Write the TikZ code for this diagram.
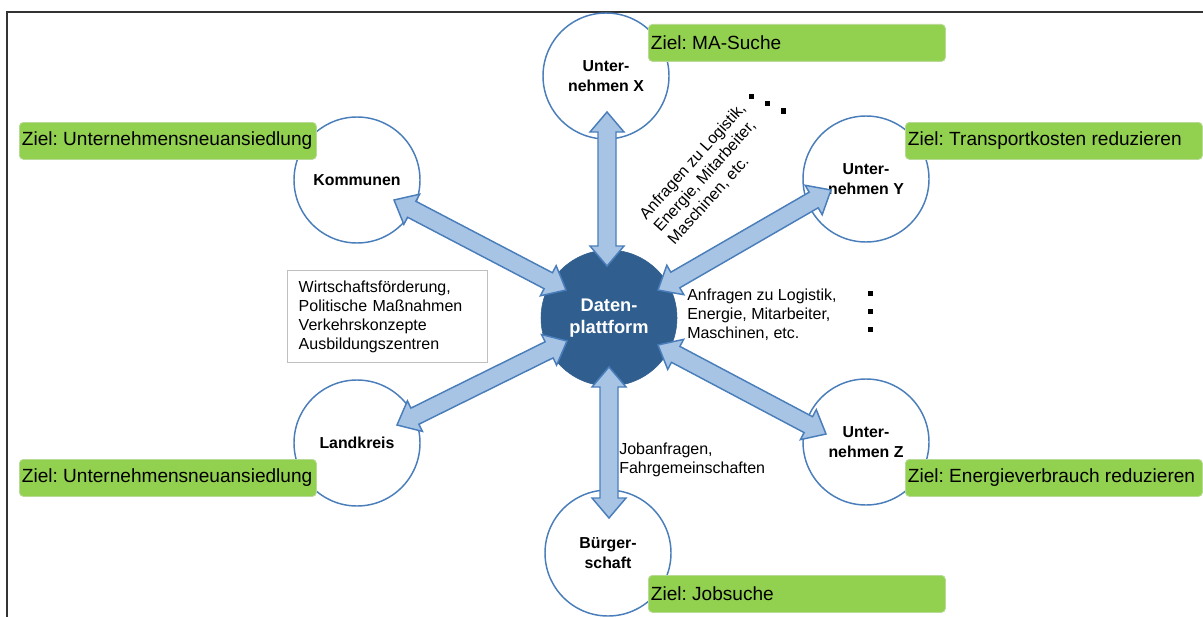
\documentclass[tikz,border=0pt]{standalone}
\usepackage{fontspec}
\setmainfont{Liberation Sans}
\usetikzlibrary{calc}
\frenchspacing
\definecolor{circblue}{RGB}{74,126,187}
\definecolor{arrfill}{RGB}{167,196,229}
\definecolor{darkblue}{RGB}{47,94,143}
\definecolor{zielgreen}{RGB}{146,208,80}
\definecolor{zielborder}{RGB}{185,218,150}
\newcommand\blockarrow[2]{%
  \path ($(#1)!15pt!(#2)$) coordinate (ha) ($(#2)!15pt!(#1)$) coordinate (hb);
  \draw[blockarr] (#1) -- ($(ha)!12.75pt!90:(#2)$) -- ($(ha)!6.75pt!90:(#2)$)
    -- ($(hb)!6.75pt!-90:(#1)$) -- ($(hb)!12.75pt!-90:(#1)$) -- (#2)
    -- ($(hb)!12.75pt!90:(#1)$) -- ($(hb)!6.75pt!90:(#1)$)
    -- ($(ha)!6.75pt!-90:(#2)$) -- ($(ha)!12.75pt!-90:(#2)$) -- cycle;}
\newcommand\zieltxt[1]{\makebox[219pt][l]{#1}}
\begin{document}
\begin{tikzpicture}[x=0.75pt,y=-0.75pt,
  every node/.style={inner sep=0pt},
  frame/.style={line width=1.6pt, draw=black!80},
  party/.style={circle, draw=circblue, line width=1.1pt, fill=white, minimum size=94.5pt, align=center, font=\fontsize{11.9}{15.5}\selectfont\bfseries},
  hub/.style={circle, draw=darkblue, fill=darkblue, minimum size=102pt, align=center, text=white, font=\fontsize{13.7}{16.5}\selectfont\bfseries},
  ziel/.style={rectangle, rounded corners=3pt, fill=zielgreen, draw=zielborder, line width=0.6pt, anchor=north west, minimum width=222.75pt, minimum height=27.75pt, inner xsep=1.8pt, font=\fontsize{14.3}{17}\selectfont},
  note/.style={align=left, font=\fontsize{12}{14.25}\selectfont},
  blockarr/.style={draw=circblue, fill=arrfill, line width=1.1pt, line join=miter},
  dotsq/.style={fill=black, minimum size=3.75pt, rectangle}
]
\useasboundingbox (0,0) rectangle (1203,617);
\fill[white] (0,0) rectangle (1203,617);
\draw[frame] (7,620) -- (7,12) -- (1206,12);

% circles
\node[party] (ux) at (606,76) {Unter-\\nehmen X};
\node[party] (komm) at (357,180) {Kommunen};
\node[party] (uy) at (866,179) {Unter-\\nehmen Y};
\node[party] (land) at (357,443) {Landkreis};
\node[party] (uz) at (866,442) {Unter-\\nehmen Z};
\node[party] (buer) at (608,553) {Bürger-\\schaft};
\node[hub] (dp) at (609,318) {Daten-\\plattform};

% arrow tips
\coordinate (tXa) at (607,112);  \coordinate (tXb) at (607,266);
\coordinate (tBa) at (609,367);  \coordinate (tBb) at (609,518);
\coordinate (tKa) at (394,200);  \coordinate (tKb) at (566,290);
\coordinate (tLa) at (397,425);  \coordinate (tLb) at (567,341);
\coordinate (tYa) at (831,190);  \coordinate (tYb) at (658,290);
\coordinate (tZa) at (826,434);  \coordinate (tZb) at (658,345);
\blockarrow{tXa}{tXb}
\blockarrow{tBa}{tBb}
\blockarrow{tKa}{tKb}
\blockarrow{tLa}{tLb}
\blockarrow{tYa}{tYb}
\blockarrow{tZa}{tZb}

% goals
\node[ziel] (gx) at (648,24) {\zieltxt{Ziel: MA-Suche}};
\node[ziel] (gk) at (19,122) {\zieltxt{Ziel: Unternehmensneuansiedlung}};
\node[ziel] (gy) at (905,122) {\zieltxt{Ziel: Transportkosten reduzieren}};
\node[ziel] (gl) at (19,459) {\zieltxt{Ziel: Unternehmensneuansiedlung}};
\node[ziel] (gz) at (905,459) {\zieltxt{Ziel: Energieverbrauch reduzieren}};
\node[ziel] (gb) at (648,575) {\zieltxt{Ziel: Jobsuche}};

% notes
\node[note, draw=black!25, line width=0.6pt, anchor=north west, minimum width=150pt, minimum height=69pt, text width=133pt, inner xsep=8pt] (wf) at (287,270)
  {Wirtschaftsförderung,\\Politische Maßnahmen\\Verkehrskonzepte\\Ausbildungszentren};
\node[note, anchor=west] (nr) at (687,315) {Anfragen zu Logistik,\\Energie, Mitarbeiter,\\Maschinen, etc.};
\node[note, anchor=west] (nb) at (619,460) {Jobanfragen,\\Fahrgemeinschaften};
\node[note, rotate=48] (nd) at (707,174) {Anfragen zu Logistik,\\Energie, Mitarbeiter,\\Maschinen, etc.};

% dots
\node[dotsq] (d1) at (751,97) {};
\node[dotsq] (d2) at (767,104) {};
\node[dotsq] (d3) at (783,111) {};
\node[dotsq] (v1) at (870,293) {};
\node[dotsq] (v2) at (870,311) {};
\node[dotsq] (v3) at (870,329) {};
\end{tikzpicture}
\end{document}
